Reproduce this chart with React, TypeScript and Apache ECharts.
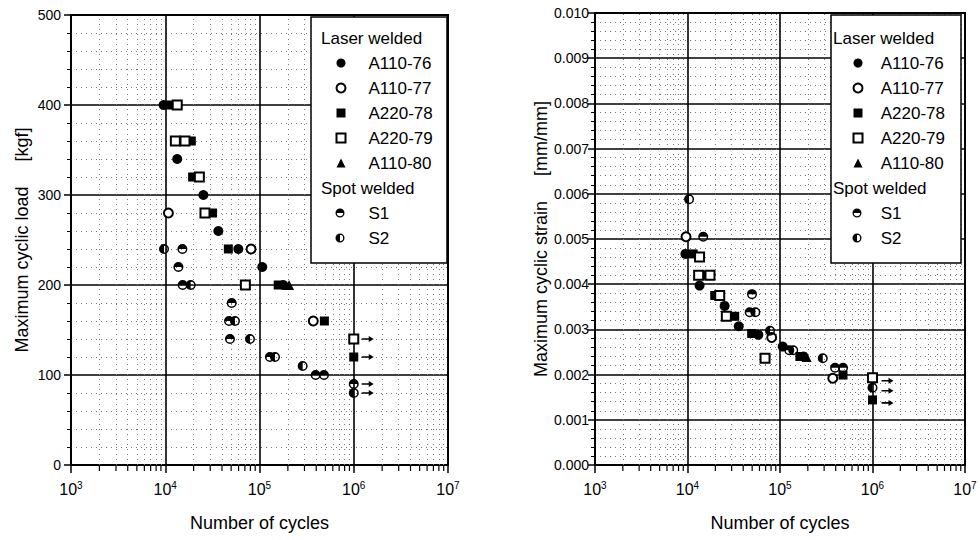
import { useEffect, useRef } from "react";
import * as echarts from "echarts";

const FONT = "'Liberation Sans', Arial, Helvetica, sans-serif";

// ---------- names ----------
const laserNames = ["A110-76", "A110-77", "A220-78", "A220-79", "A110-80"];
const spotNames = ["S1", "S2"];

// ---------- left chart: load [kgf] vs cycles ----------
const loadA11076 = [[9600, 400], [13400, 340], [25400, 300], [36600, 260], [59600, 240], [107000, 220], [179000, 200]];
const loadA11077 = [[10800, 280], [81300, 240], [372000, 160]];
const loadA22078 = [[11400, 400], [18900, 360], [19500, 320], [31800, 280], [46700, 240], [158000, 200], [488000, 160], [1000000, 120]];
const loadA22079 = [[13400, 400], [12800, 360], [16200, 360], [23000, 320], [26400, 280], [70800, 200], [1000000, 140]];
const loadA11080 = [[206000, 200]];
const loadS1 = [[15200, 240], [13800, 220], [15300, 200], [50700, 180], [47500, 160], [48600, 140], [129000, 120], [394000, 100], [483000, 100], [1000000, 90]];
const loadS2 = [[9700, 240], [18600, 200], [54900, 160], [79200, 140], [146000, 120], [287000, 110], [1000000, 80]];
const loadRunouts = [[1000000, 140], [1000000, 120], [1000000, 90], [1000000, 80]];

// ---------- right chart: strain [mm/mm] vs cycles ----------
const strainA11076 = [[9500, 0.00467], [13500, 0.00397], [25200, 0.00352], [35800, 0.00307], [58300, 0.00288], [107000, 0.00262], [179000, 0.0024]];
const strainA11077 = [[9640, 0.00505], [81300, 0.00282], [372000, 0.00192]];
const strainA22078 = [[11500, 0.00467], [15100, 0.0042], [19700, 0.00375], [32400, 0.00329], [49400, 0.00291], [164000, 0.0024], [480000, 0.00199], [1000000, 0.00144]];
const strainA22079 = [[13500, 0.0046], [13200, 0.0042], [17500, 0.0042], [22300, 0.00375], [26300, 0.00329], [68900, 0.00236], [1000000, 0.00193]];
const strainA11080 = [[194000, 0.00239]];
const strainS1 = [[14800, 0.00505], [49800, 0.00378], [47000, 0.00338], [126000, 0.00254], [394000, 0.00215], [480000, 0.00215]];
const strainS2 = [[10400, 0.00588], [54100, 0.00338], [78000, 0.00297], [139000, 0.00254], [290000, 0.00236], [1000000, 0.00171]];
const strainRunouts = [[1000000, 0.00193], [1000000, 0.00171], [1000000, 0.00144]];

// ---------- axes ----------
const decades = [1e3, 1e4, 1e5, 1e6];
const minorMultipliers = [2, 3, 4, 5, 6, 7, 8, 9];
const minorCycles = decades.flatMap((d) => minorMultipliers.map((m) => d * m));

const S1_PATH = "path://M0,5 A5,5 0 0 1 10,5 Z M0,5 A5,5 0 0 0 10,5 L8.5,5 A3.5,3.5 0 0 1 1.5,5 Z";
const S2_PATH = "path://M5,0 A5,5 0 0 0 5,10 Z M5,0 A5,5 0 0 1 5,10 L5,8.5 A3.5,3.5 0 0 0 5,1.5 Z";
const ARROW_PATH = "path://M0,2.2 L7,2.2 L7,0 L12,3 L7,6 L7,3.8 L0,3.8 Z";

const symbolOf: Record<string, { symbol: string; size: number; empty: boolean }> = {
  "A110-76": { symbol: "circle", size: 10, empty: false },
  "A110-77": { symbol: "emptyCircle", size: 9, empty: true },
  "A220-78": { symbol: "rect", size: 9, empty: false },
  "A220-79": { symbol: "emptyRect", size: 9, empty: true },
  "A110-80": { symbol: "triangle", size: 10, empty: false },
  S1: { symbol: S1_PATH, size: 10, empty: false },
  S2: { symbol: S2_PATH, size: 10, empty: false },
};

const MINOR_LINE = { color: "#777", width: 1, type: [1, 4] };

function markSeries(name: string, data: number[][], gi: number) {
  const s = symbolOf[name];
  return {
    type: "scatter",
    name,
    xAxisIndex: gi,
    yAxisIndex: gi,
    data,
    symbol: s.symbol,
    symbolSize: s.size,
    itemStyle: s.empty
      ? { color: "#000", borderColor: "#000", borderWidth: 1.7, opacity: 1 }
      : { color: "#000", borderWidth: 0, opacity: 1 },
    emphasis: { disabled: true },
    z: 3,
  };
}

function xAxisOf(gi: number) {
  return {
    type: "log",
    logBase: 10,
    gridIndex: gi,
    min: 1e3,
    max: 1e7,
    name: "Number of cycles",
    nameLocation: "middle",
    nameGap: 49,
    nameTextStyle: { fontSize: 18, color: "#000", fontFamily: FONT },
    axisLine: { show: true, onZero: false, lineStyle: { color: "#000", width: 2 } },
    axisTick: { show: true, length: 8, lineStyle: { color: "#000", width: 1.5 } },
    axisLabel: {
      margin: 15,
      fontSize: 16,
      color: "#000",
      formatter: (v: number) => `{b|10}{s|${Math.round(Math.log10(v))}}`,
      rich: {
        b: { fontSize: 16, lineHeight: 18, fontFamily: FONT, color: "#000" },
        s: { fontSize: 10, lineHeight: 10, verticalAlign: "top", fontFamily: FONT, color: "#000" },
      },
    },
    splitLine: { show: true, lineStyle: { color: "#000", width: 1.6 } },
  };
}

function yAxisOf(gi: number, max: number, interval: number, name: string, gap: number, margin: number, fmt: (v: number) => string) {
  return {
    type: "value",
    gridIndex: gi,
    min: 0,
    max,
    interval,
    name,
    nameLocation: "middle",
    nameGap: gap,
    nameTextStyle: { fontSize: 18, color: "#000", fontFamily: FONT },
    axisLine: { show: true, lineStyle: { color: "#000", width: 2 } },
    axisTick: { show: true, length: 7, lineStyle: { color: "#000", width: 1.5 } },
    minorTick: { show: true, splitNumber: 5, length: 4, lineStyle: { color: "#000", width: 1 } },
    axisLabel: { margin, fontSize: 14, color: "#000", fontFamily: FONT, formatter: fmt },
    splitLine: { show: true, lineStyle: { color: "#000", width: 1.6 } },
    minorSplitLine: { show: true, lineStyle: MINOR_LINE },
  };
}

function helperSeries(gi: number, runouts: number[][], arrowOffset: number[]) {
  return [
    {
      type: "scatter",
      name: "runout",
      xAxisIndex: gi,
      yAxisIndex: gi,
      data: runouts,
      symbol: ARROW_PATH,
      symbolSize: [12, 6],
      symbolOffset: arrowOffset,
      itemStyle: { color: "#000", opacity: 1 },
      silent: true,
      clip: false,
      z: 3,
      markLine: {
        silent: true,
        symbol: ["none", "none"],
        label: { show: false },
        lineStyle: MINOR_LINE,
        data: minorCycles.map((v) => ({ xAxis: v })),
        z: 1,
      },
    },
    {
      type: "scatter",
      name: "minorTicks",
      xAxisIndex: gi,
      yAxisIndex: gi,
      data: minorCycles.map((v) => [v, 0]),
      symbol: "rect",
      symbolSize: [1.2, 5],
      symbolOffset: [0, 3.5],
      itemStyle: { color: "#000", opacity: 1 },
      silent: true,
      clip: false,
      z: 3,
    },
  ];
}

function legendOf(names: string[], left: number, top: number, pad: string) {
  return {
    data: names,
    orient: "vertical",
    left,
    top,
    padding: 0,
    itemGap: 5,
    itemWidth: 9,
    itemHeight: 9,
    selectedMode: false,
    z: 20,
    formatter: (n: string) => pad + n,
    textStyle: { fontSize: 17, lineHeight: 20, color: "#000", fontFamily: FONT },
  };
}

export default function App() {
  const ref = useRef<HTMLDivElement>(null);
  useEffect(() => {
    if (!ref.current) return;
    const chart = echarts.init(ref.current, undefined, { renderer: "svg" });
    const leftData = [loadA11076, loadA11077, loadA22078, loadA22079, loadA11080, loadS1, loadS2];
    const rightData = [strainA11076, strainA11077, strainA22078, strainA22079, strainA11080, strainS1, strainS2];
    const allNames = [...laserNames, ...spotNames];
    const option = {
      animation: false,
      backgroundColor: "#fff",
      textStyle: { fontFamily: FONT },
      grid: [
        { left: 71, top: 15, width: 377, height: 450, show: true, borderColor: "#000", borderWidth: 2 },
        { left: 595, top: 13, width: 370, height: 452, show: true, borderColor: "#000", borderWidth: 2 },
      ],
      xAxis: [xAxisOf(0), xAxisOf(1)],
      yAxis: [
        yAxisOf(0, 500, 100, "Maximum cyclic load     [kgf]", 40, 10, (v: number) => String(v)),
        yAxisOf(1, 0.01, 0.001, "Maximum cyclic strain     [mm/mm]", 42, 6, (v: number) => v.toFixed(3)),
      ],
      legend: [
        legendOf(laserNames, 335.5, 53, "    "),
        legendOf(spotNames, 335.5, 203, "    "),
        legendOf(laserNames, 852.5, 53, "   "),
        legendOf(spotNames, 852.5, 203, "   "),
      ],
      graphic: [
        { type: "rect", z: 10, shape: { x: 311, y: 17, width: 136, height: 246 }, style: { fill: "#fff", stroke: "#000", lineWidth: 1.5 } },
        { type: "rect", z: 10, shape: { x: 831, y: 15, width: 130, height: 248 }, style: { fill: "#fff", stroke: "#000", lineWidth: 1.5 } },
        { type: "text", z: 21, x: 321, y: 38, style: { text: "Laser welded", fontSize: 17, fontFamily: FONT, fill: "#000", verticalAlign: "middle" } },
        { type: "text", z: 21, x: 321, y: 188, style: { text: "Spot welded", fontSize: 17, fontFamily: FONT, fill: "#000", verticalAlign: "middle" } },
        { type: "text", z: 21, x: 833, y: 38, style: { text: "Laser welded", fontSize: 17, fontFamily: FONT, fill: "#000", verticalAlign: "middle" } },
        { type: "text", z: 21, x: 833, y: 188, style: { text: "Spot welded", fontSize: 17, fontFamily: FONT, fill: "#000", verticalAlign: "middle" } },
      ],
      series: [
        ...allNames.map((n, i) => markSeries(n, leftData[i], 0)),
        ...helperSeries(0, loadRunouts, [14, 0]),
        ...allNames.map((n, i) => markSeries(n, rightData[i], 1)),
        ...helperSeries(1, strainRunouts, [15, 3]),
      ],
    };
    chart.setOption(option as any);
    return () => chart.dispose();
  }, []);
  return <div ref={ref} style={{ position: "absolute", left: 0, top: 0, width: 980, height: 540 }} />;
}
